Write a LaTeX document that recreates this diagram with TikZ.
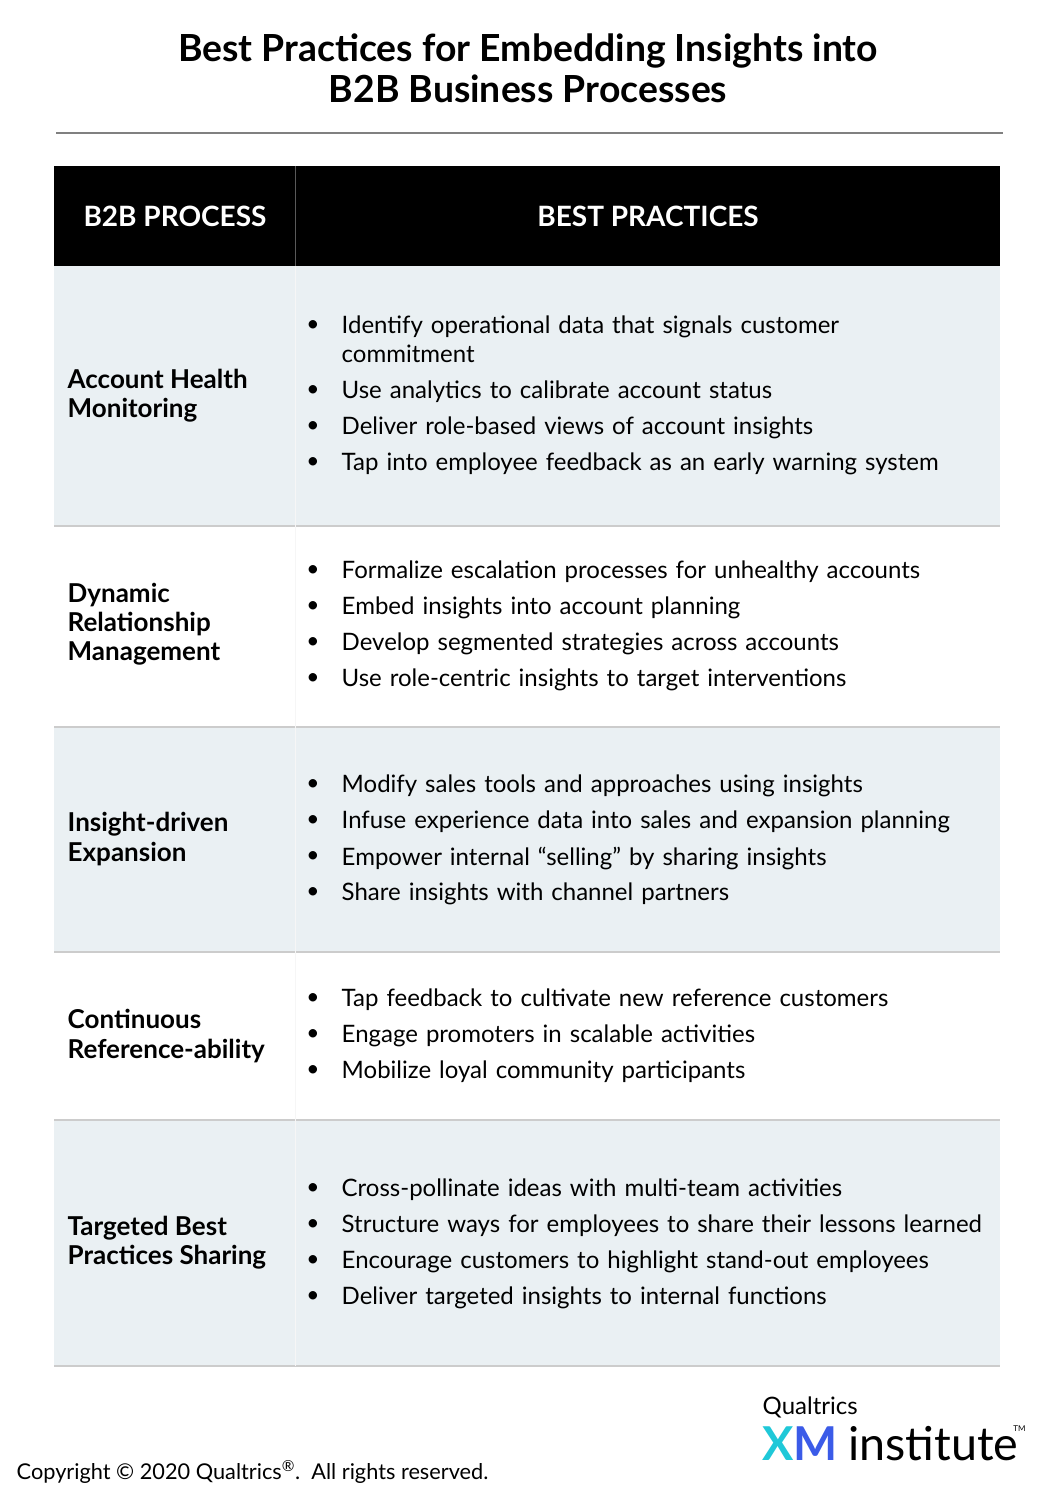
\documentclass[tikz,border=0pt]{standalone}
\usepackage{fontspec}
\setmainfont{Lato}
\usepackage{xcolor}
\usetikzlibrary{positioning}
\definecolor{rowgray}{HTML}{EAF0F3}
\definecolor{rulegray}{HTML}{CCCCCC}
\definecolor{xmteal}{HTML}{1FC8D8}
\definecolor{xmblue}{HTML}{3B5BE8}
\tikzset{
  procname/.style={anchor=west, align=left, font=\fontsize{19.5}{21.8}\selectfont\bfseries},
  practice/.style={anchor=west, align=left, text width=520pt, font=\fontsize{18}{21.5}\selectfont},
  headtext/.style={text=white, font=\fontsize{21}{24}\selectfont\bfseries},
}
\newcommand{\bul}[3]{% name, y, text
  \node[anchor=center, font=\fontsize{17}{20}\selectfont] (#1dot) at (313,#2) {\textbullet};
  \node[practice, anchor=north west] (#1) at (337,#2-15) {#3};
}
\begin{document}
\begin{tikzpicture}[x=0.75pt, y=-0.75pt]
\useasboundingbox (0,0) rectangle (1056,1500);
\fill[white] (0,0) rectangle (1056,1500);
% title
\node[font=\fontsize{28}{31}\selectfont\bfseries, align=center] (title) at (528,68) {Best Practices for Embedding Insights into\\B2B Business Processes};
\draw[gray, line width=0.8pt] (56,133) -- (1003,133);
% header
\fill[black] (54,166) rectangle (1000,266);
\draw[gray!70!black] (295,166) -- (295,266);
\node[headtext] (hproc) at (175,216) {B2B PROCESS};
\node[headtext] (hbest) at (648,216) {BEST PRACTICES};
% row fills
\fill[rowgray] (54,266) rectangle (1000,526);
\fill[rowgray] (54,727) rectangle (1000,952);
\fill[rowgray] (54,1120) rectangle (1000,1366);
\foreach \y in {526,727,952,1120,1366}
  \draw[rulegray, line width=1.5pt] (54,\y) -- (1000,\y);
\draw[white!93!gray, line width=0.6pt] (295,266) -- (295,1366);
% process names
\node[procname] (p1) at (63,396) {Account Health\\Monitoring};
\node[procname] (p2) at (63,624) {Dynamic\\Relationship\\Management};
\node[procname] (p3) at (63,839) {Insight-driven\\Expansion};
\node[procname] (p4) at (63,1036) {Continuous\\Reference-ability};
\node[procname] (p5) at (63,1243) {Targeted Best\\Practices Sharing};
% practices
\bul{a1}{326}{Identify operational data that signals customer\\commitment}
\bul{a2}{391}{Use analytics to calibrate account status}
\bul{a3}{427}{Deliver role-based views of account insights}
\bul{a4}{463}{Tap into employee feedback as an early warning system}
\bul{b1}{571}{Formalize escalation processes for unhealthy accounts}
\bul{b2}{607}{Embed insights into account planning}
\bul{b3}{643}{Develop segmented strategies across accounts}
\bul{b4}{679}{Use role-centric insights to target interventions}
\bul{c1}{785}{Modify sales tools and approaches using insights}
\bul{c2}{821}{Infuse experience data into sales and expansion planning}
\bul{c3}{857}{Empower internal “selling” by sharing insights}
\bul{c4}{893}{Share insights with channel partners}
\bul{d1}{999}{Tap feedback to cultivate new reference customers}
\bul{d2}{1035}{Engage promoters in scalable activities}
\bul{d3}{1071}{Mobilize loyal community participants}
\bul{e1}{1189}{Cross-pollinate ideas with multi-team activities}
\bul{e2}{1225}{Structure ways for employees to share their lessons learned}
\bul{e3}{1261}{Encourage customers to highlight stand-out employees}
\bul{e4}{1297}{Deliver targeted insights to internal functions}
% footer
\node[anchor=west, font=\fontsize{16.3}{18}\selectfont] (copy) at (12,1472) {Copyright © 2020 Qualtrics\textsuperscript{®}.\ \ All rights reserved.};
\node[anchor=west, font=\fontsize{18}{20}\selectfont] (qual) at (758,1407) {Qualtrics};
\node[anchor=west, inner sep=0pt, font=\fontsize{35}{38}\selectfont\bfseries] (xm) at (762,1444) {\textcolor{xmteal}{X}\textcolor{xmblue}{M}};
\node[anchor=west, inner sep=0pt, font=\fontsize{35}{38}\selectfont] (inst) at (848,1444) {institute};
\node[anchor=west, inner sep=0pt, font=\fontsize{6}{7}\selectfont] (tm) at (1013,1429) {TM};
\end{tikzpicture}
\end{document}
